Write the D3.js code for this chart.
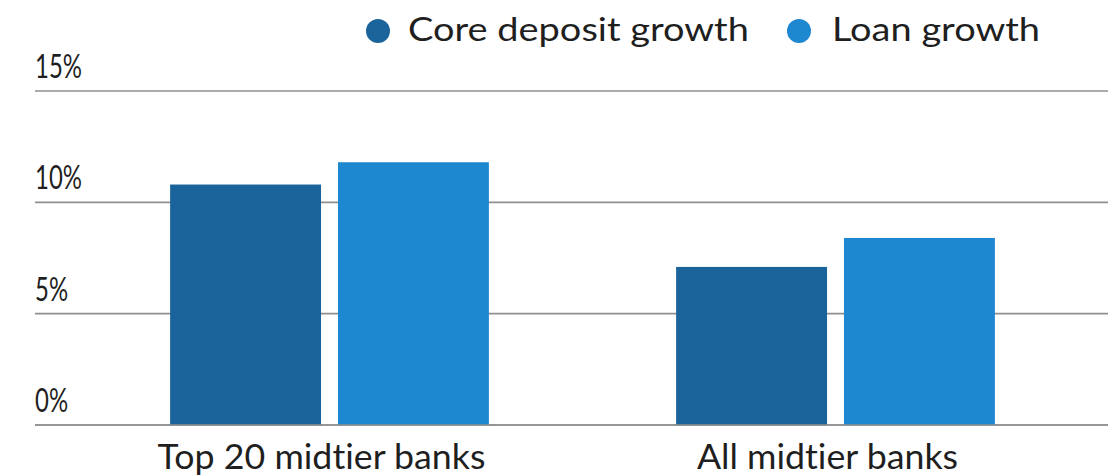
<!DOCTYPE html>
<html>
<head>
<meta charset="utf-8">
<script src="https://cdn.jsdelivr.net/npm/d3@7"></script>
<style>
  html, body { margin: 0; padding: 0; background: #fff; }
  svg { display: block; }
  text { font-family: Lato, "Open Sans", sans-serif; fill: #1f1f1f;
         font-variant-ligatures: none; font-feature-settings: "liga" 0, "clig" 0; }
</style>
</head>
<body>
<svg id="chart" width="1108" height="476"></svg>
<script>
// ---- Data ----
const categories = ["Top 20 midtier banks", "All midtier banks"];
const seriesNames = ["Core deposit growth", "Loan growth"];
const coreDepositGrowth = [10.8, 7.1];
const loanGrowth = [11.8, 8.4];
const yTicks = [0, 5, 10, 15];
const yTickLabels = ["0%", "5%", "10%", "15%"];
const seriesColors = ["#1b649b", "#1d87d0"];

const seriesValues = [coreDepositGrowth, loanGrowth];
const rows = categories.map((c, i) => ({
  category: c,
  values: seriesNames.map((s, j) => ({ series: s, value: seriesValues[j][i] }))
}));

const svg = d3.select("#chart");

const y = d3.scaleLinear().domain([0, 15]).range([425, 91]);
const x0 = d3.scaleBand().domain(categories).range([76.5, 1088.5])
  .paddingInner(0.37).paddingOuter(0.185);
const x1 = d3.scaleBand().domain(seriesNames).range([0, x0.bandwidth()])
  .paddingInner(0.101).paddingOuter(0);
const color = d3.scaleOrdinal().domain(seriesNames).range(seriesColors);

// helper: horizontally fit text to a target width
function fitX(sel, factor) {
  sel.each(function() {
    const t = d3.select(this);
    const xx = +t.attr("x"), yy = +t.attr("y");
    t.attr("transform", `translate(${xx},${yy}) scale(${factor},1) translate(${-xx},${-yy})`);
  });
}

// gridlines
const grid = svg.append("g");
grid.selectAll("line").data(yTicks).join("line")
  .attr("x1", 35).attr("x2", 1108)
  .attr("y1", d => y(d)).attr("y2", d => y(d))
  .attr("stroke", "#8f8f8f").attr("stroke-width", 1.6);

// bars
const groups = svg.append("g").selectAll("g").data(rows).join("g")
  .attr("transform", d => `translate(${x0(d.category)},0)`);
groups.selectAll("rect").data(d => d.values).join("rect")
  .attr("x", d => x1(d.series))
  .attr("width", x1.bandwidth())
  .attr("y", d => y(d.value))
  .attr("height", d => y(0) - y(d.value))
  .attr("fill", d => color(d.series));

// redraw baseline over bars
svg.append("line").attr("x1", 35).attr("x2", 1108)
  .attr("y1", y(0)).attr("y2", y(0))
  .attr("stroke", "#8f8f8f").attr("stroke-width", 1.6);

// y tick labels
const tickText = svg.append("g").selectAll("text").data(yTicks).join("text")
  .attr("x", 35).attr("y", d => y(d) - 13)
  .attr("font-size", 32)
  .text((d, i) => yTickLabels[i]);
{
  const ref = tickText.filter(d => d === 15).node().getComputedTextLength();
  fitX(tickText, 47 / ref);
}

// category labels
const catText = svg.append("g").selectAll("text").data(categories).join("text")
  .attr("x", d => x0(d) + x0.bandwidth() / 2 - 8)
  .attr("y", 469)
  .attr("text-anchor", "middle")
  .attr("font-size", 34)
  .text(d => d);
{
  const ref = catText.filter((d, i) => i === 0).node().getComputedTextLength();
  fitX(catText, 328 / ref);
}

// legend
const legendPos = [{ cx: 378, tx: 408 }, { cx: 799, tx: 832 }];
const leg = svg.append("g").selectAll("g").data(seriesNames).join("g");
leg.append("circle")
  .attr("cx", (d, i) => legendPos[i].cx).attr("cy", 31).attr("r", 12)
  .attr("fill", d => color(d));
const legText = leg.append("text")
  .attr("x", (d, i) => legendPos[i].tx).attr("y", 41)
  .attr("font-size", 33)
  .text(d => d);
{
  const ref = legText.filter((d, i) => i === 0).node().getComputedTextLength();
  fitX(legText, 341 / ref);
}
</script>
</body>
</html>
